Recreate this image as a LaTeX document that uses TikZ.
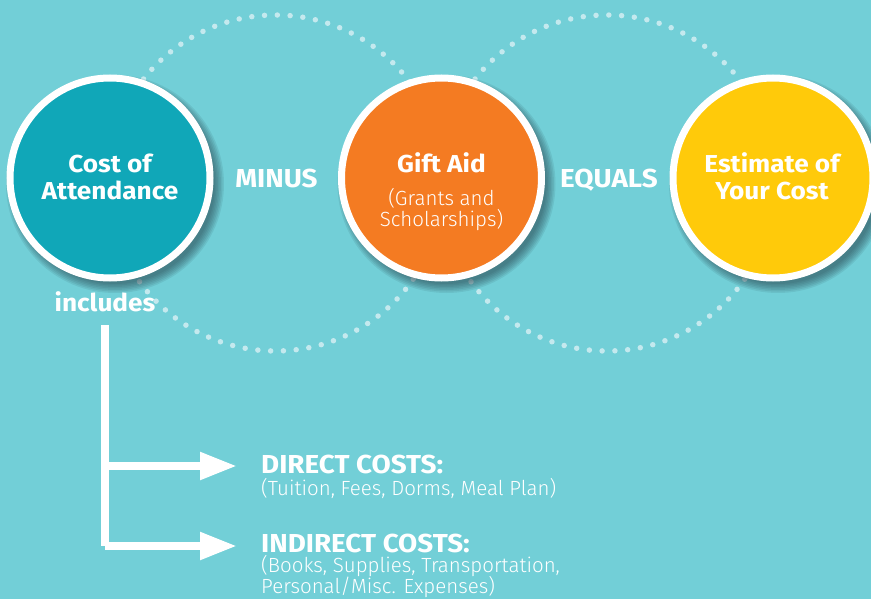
\documentclass[tikz,border=0pt]{standalone}
\usepackage{fontspec}
\setmainfont{Fira Sans}[FakeStretch=1.07]
\newfontfamily\lightfont{Fira Sans Light}
\usetikzlibrary{arrows.meta}
\definecolor{bg}{RGB}{114,207,215}
\definecolor{coacol}{RGB}{16,167,184}
\definecolor{giftcol}{RGB}{244,123,34}
\definecolor{estcol}{RGB}{255,202,10}
\definecolor{dotcol}{RGB}{196,233,238}
\definecolor{shadcol}{RGB}{35,60,70}
\tikzset{
  bigcirc/.style={circle, draw=white, line width=7pt, minimum size=200pt, inner sep=0pt},
  dotring/.style={dotcol, line width=5.5pt, line cap=round, dash pattern=on 0pt off 12.8pt},
  boldtxt/.style={text=white, font=\bfseries\fontsize{26}{27}\selectfont, inner sep=0pt},
  boldlc/.style={text=white, font=\bfseries\fontsize{24.5}{27}\selectfont, inner sep=0pt},
  lighttxt/.style={text=white, font=\lightfont\fontsize{20.5}{22}\selectfont, inner sep=0pt},
  fatline/.style={white, line width=8pt, line join=miter},
  fatarrow/.style={fatline, -{Triangle[length=37pt,width=26pt]}}
}
\begin{document}
\begin{tikzpicture}[x=1pt,y=-1pt]
\fill[bg] (0,0) rectangle (871,599);
\useasboundingbox (0,0) rectangle (871,599);
% dotted rings
\draw[dotring] (275.5,183) circle[radius=168];
\draw[dotring] (607,183) circle[radius=168];
% shadows
\foreach \cx in {110,441.5,773}{
  \foreach \r in {100,101.5,...,110}{
    \fill[shadcol, opacity=0.1] (\cx+5,184) circle[radius=\r];
  }
}
% circles
\node[bigcirc, fill=coacol] (coa) at (110,178) {};
\node[bigcirc, fill=giftcol] (gift) at (441.5,178) {};
\node[bigcirc, fill=estcol] (est) at (773,178) {};
% circle texts
\node[boldlc, anchor=base] (coa1) at (110,173) {Cost of};
\node[boldlc, anchor=base] (coa2) at (110,200) {Attendance};
\node[boldlc, anchor=base] (gift1) at (441.5,173) {Gift Aid};
\node[lighttxt, anchor=base] (gift2) at (441.5,206) {(Grants and};
\node[lighttxt, anchor=base] (gift3) at (441.5,226) {Scholarships)};
\node[boldlc, anchor=base] (est1) at (772,173) {Estimate of};
\node[boldlc, anchor=base] (est2) at (772,200) {Your Cost};
% operators
\node[boldtxt, anchor=base] (minus) at (276.5,188) {MINUS};
\node[boldtxt, anchor=base] (equals) at (609,188) {EQUALS};
\node[boldlc, anchor=base] (incl) at (105,311) {includes};
% tree
\coordinate (top) at (105,325);
\coordinate (corner) at (105,546);
\coordinate (mid) at (105,466);
\coordinate (dtip) at (237,466);
\coordinate (itip) at (237,546);
\draw[fatline] (top) -- (corner);
\draw[fatarrow] (corner) -- (itip);
\draw[fatarrow] (mid) -- (dtip);
% cost texts
\node[boldtxt, anchor=base west] (direct) at (261,473) {DIRECT COSTS:};
\node[lighttxt, anchor=base west] (directd) at (261,495) {(Tuition, Fees, Dorms, Meal Plan)};
\node[boldtxt, anchor=base west] (indirect) at (261,552) {INDIRECT COSTS:};
\node[lighttxt, anchor=base west] (ind1) at (261,572) {(Books, Supplies, Transportation,};
\node[lighttxt, anchor=base west] (ind2) at (261,593) {Personal/Misc. Expenses)};
\end{tikzpicture}
\end{document}
